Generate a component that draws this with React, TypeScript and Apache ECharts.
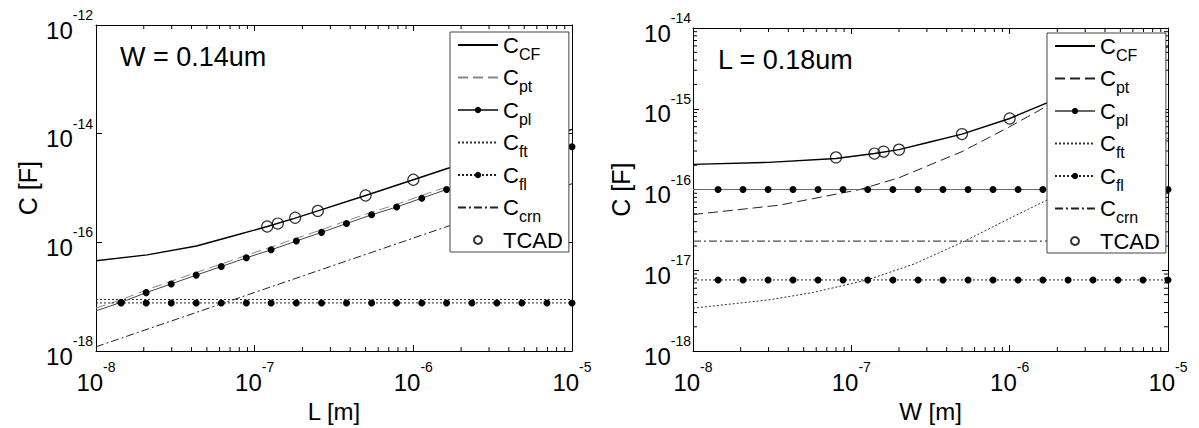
import React, { useEffect, useRef } from 'react';
import * as echarts from 'echarts';

const FONT = "'Liberation Sans', Arial, Helvetica, sans-serif";

// ---------- data (metres / farads) ----------
// sweep points used for the marked curves
const sweepX = [1e-8, 1.44e-8, 2.07e-8, 2.98e-8, 4.28e-8, 6.16e-8, 8.86e-8, 1.27e-7, 1.83e-7, 2.64e-7,
  3.79e-7, 5.46e-7, 7.85e-7, 1.13e-6, 1.62e-6, 2.34e-6, 3.36e-6, 4.83e-6, 6.95e-6, 1e-5];

// Left panel: W = 0.14um, x = L
const leftCfX = [1e-8, 2.1e-8, 4.3e-8, 8e-8, 1.2e-7, 1.8e-7, 2.5e-7, 5e-7, 1e-6, 1.6e-6, 1e-5];
const leftCfY = [4.6e-17, 5.9e-17, 8.6e-17, 1.41e-16, 1.96e-16, 2.8e-16, 3.8e-16, 7.3e-16, 1.42e-15, 2.24e-15, 1.2e-14];
const leftPtY = [6.2e-18, 8.8e-18, 1.33e-17, 1.93e-17, 2.8e-17, 4.0e-17, 5.8e-17, 8.2e-17, 1.19e-16, 1.71e-16,
  2.49e-16, 3.6e-16, 5.0e-16, 7.3e-16, 1.05e-15, 1.52e-15, 2.2e-15, 3.08e-15, 4.45e-15, 6.4e-15];
const leftPlY = [5.5e-18, 7.9e-18, 1.19e-17, 1.72e-17, 2.5e-17, 3.6e-17, 5.2e-17, 7.3e-17, 1.06e-16, 1.53e-16,
  2.22e-16, 3.22e-16, 4.48e-16, 6.5e-16, 9.4e-16, 1.36e-15, 1.98e-15, 2.75e-15, 3.98e-15, 5.77e-15];
const leftFtX = [1e-8, 1e-5];
const leftFtY = [8.9e-18, 8.9e-18];
const leftFlY = [7.7e-18, 7.7e-18, 7.7e-18, 7.7e-18, 7.7e-18, 7.7e-18, 7.7e-18, 7.7e-18, 7.7e-18, 7.7e-18,
  7.7e-18, 7.7e-18, 7.7e-18, 7.7e-18, 7.7e-18, 7.7e-18, 7.7e-18, 7.7e-18, 7.7e-18, 7.7e-18];
const leftCrnX = [1e-8, 1e-7, 1e-6, 1e-5];
const leftCrnY = [1.2e-18, 1.2e-17, 1.2e-16, 1.2e-15];
const leftTcadX = [1.2e-7, 1.4e-7, 1.8e-7, 2.5e-7, 5e-7, 1e-6];
const leftTcadY = [1.96e-16, 2.22e-16, 2.84e-16, 3.8e-16, 7.3e-16, 1.42e-15];

// Right panel: L = 0.18um, x = W
const rightCfX = [1e-8, 3e-8, 8e-8, 1.4e-7, 2e-7, 3e-7, 5e-7, 1e-6, 1.72e-6, 1e-5];
const rightCfY = [2.05e-16, 2.17e-16, 2.42e-16, 2.79e-16, 3.12e-16, 3.8e-16, 4.86e-16, 7.58e-16, 1.18e-15, 5.9e-15];
const rightPtX = [1e-8, 3.5e-8, 1.13e-7, 2e-7, 5e-7, 1e-6, 1.72e-6, 1e-5];
const rightPtY = [4.9e-17, 6.4e-17, 1.0e-16, 1.4e-16, 2.95e-16, 6.0e-16, 1.08e-15, 5.0e-15];
const rightPlY = [1e-16, 1e-16, 1e-16, 1e-16, 1e-16, 1e-16, 1e-16, 1e-16, 1e-16, 1e-16,
  1e-16, 1e-16, 1e-16, 1e-16, 1e-16, 1e-16, 1e-16, 1e-16, 1e-16, 1e-16];
const rightFtX = [1e-8, 3e-8, 5.7e-8, 1.26e-7, 2.5e-7, 5.2e-7, 1e-6, 1.72e-6, 1e-5];
const rightFtY = [3.4e-18, 4.3e-18, 5.3e-18, 7.6e-18, 1.2e-17, 2.3e-17, 4.4e-17, 7.4e-17, 4.3e-16];
const rightFlY = [7.6e-18, 7.6e-18, 7.6e-18, 7.6e-18, 7.6e-18, 7.6e-18, 7.6e-18, 7.6e-18, 7.6e-18, 7.6e-18,
  7.6e-18, 7.6e-18, 7.6e-18, 7.6e-18, 7.6e-18, 7.6e-18, 7.6e-18, 7.6e-18, 7.6e-18, 7.6e-18];
const rightCrnX = [1e-8, 1e-5];
const rightCrnY = [2.3e-17, 2.3e-17];
const rightTcadX = [8e-8, 1.4e-7, 1.6e-7, 2e-7, 5e-7, 1e-6];
const rightTcadY = [2.5e-16, 2.79e-16, 2.95e-16, 3.12e-16, 4.86e-16, 7.58e-16];

const legendKeys = ['CF', 'pt', 'pl', 'ft', 'fl', 'crn', 'TCAD'];
const markedKeys = ['pl', 'fl', 'TCAD'];
const xDecades = [-8, -7, -6];
const rightYDecades = [-18, -17, -16, -15];
const minorMultipliers = [2, 3, 4, 5, 6, 7, 8, 9];

const lg = (v: number) => Math.log10(v);
const pairs = (xs: number[], ys: number[]) => xs.map((x, i) => [lg(x), lg(ys[i])]);
const markedPairs = (xs: number[], ys: number[]) =>
  xs.map((x, i) => (i === 0 ? { value: [lg(x), lg(ys[i])], symbol: 'none' } : [lg(x), lg(ys[i])]));

const DASH = [10, 5];
const DOT = [2, 2];
const DASHDOT = [8, 3, 2, 3];

function buildPanel(p: 'L' | 'R', axisIdx: number, d: any) {
  const base = { xAxisIndex: axisIdx, yAxisIndex: axisIdx, animation: false, silent: true };
  const lineBase = { ...base, type: 'line', symbol: 'none', emphasis: { disabled: true } };
  const marked = {
    symbol: 'circle', symbolSize: 7, showSymbol: true, showAllSymbol: true,
    itemStyle: { color: '#000' },
  };
  return [
    { ...lineBase, name: p + '|pt', data: d.pt, lineStyle: { color: d.ptColor, width: 1, type: DASH }, itemStyle: { color: d.ptColor }, z: 3 },
    { ...lineBase, ...marked, name: p + '|pl', data: d.pl, lineStyle: { color: d.plColor, width: 1, type: 'solid' }, z: 4 },
    { ...lineBase, name: p + '|ft', data: d.ft, lineStyle: { color: '#333', width: 1, type: DOT }, itemStyle: { color: '#333' }, z: 3 },
    { ...lineBase, ...marked, name: p + '|fl', data: d.fl, lineStyle: { color: '#222', width: 1, type: DOT }, z: 4 },
    { ...lineBase, name: p + '|crn', data: d.crn, lineStyle: { color: '#222', width: 1, type: DASHDOT }, itemStyle: { color: '#222' }, z: 3 },
    { ...lineBase, name: p + '|CF', data: d.cf, lineStyle: { color: '#000', width: 1.4, type: 'solid' }, itemStyle: { color: '#000' }, z: 5 },
    {
      ...base, type: 'scatter', name: p + '|TCAD', data: d.tcad, symbol: 'circle', symbolSize: 11,
      itemStyle: { color: 'rgba(255,255,255,0)', borderColor: '#000', borderWidth: 1.2 }, z: 6,
    },
  ];
}

function minorTickSeries(axisIdx: number, xs: number[], ys: number[], xr: number[], yr: number[]) {
  const tick = (x1: number, y1: number, x2: number, y2: number) => ({
    type: 'line', shape: { x1, y1, x2, y2 }, style: { stroke: '#000', lineWidth: 1 },
  });
  const out: any[] = [];
  if (xs.length) {
    out.push({
      type: 'custom', xAxisIndex: axisIdx, yAxisIndex: axisIdx, silent: true, z: 1,
      data: xs.map((v) => [v, yr[0]]),
      renderItem: (_p: any, api: any) => {
        const v = api.value(0);
        const a = api.coord([v, yr[0]]);
        const b = api.coord([v, yr[1]]);
        return { type: 'group', children: [tick(a[0], a[1], a[0], a[1] - 4), tick(b[0], b[1], b[0], b[1] + 4)] };
      },
    });
  }
  if (ys.length) {
    out.push({
      type: 'custom', xAxisIndex: axisIdx, yAxisIndex: axisIdx, silent: true, z: 1,
      data: ys.map((v) => [xr[0], v]),
      renderItem: (_p: any, api: any) => {
        const v = api.value(1);
        const a = api.coord([xr[0], v]);
        const b = api.coord([xr[1], v]);
        return { type: 'group', children: [tick(a[0], a[1], a[0] + 4, a[1]), tick(b[0], b[1], b[0] - 4, b[1])] };
      },
    });
  }
  return out;
}

const tickRich = {
  b: { fontSize: 24, fontFamily: FONT, color: '#000', verticalAlign: 'bottom', lineHeight: 34 },
  s: { fontSize: 14, fontFamily: FONT, color: '#000', verticalAlign: 'top', lineHeight: 34 },
};
const expLabel = (v: number) => `{b|10}{s|${Math.round(v)}}`;

const axisLine = { show: true, onZero: false, lineStyle: { color: '#000', width: 1 } };

function xAxes(grid: number, name: string, nameGap: number) {
  return [
    {
      type: 'value', gridIndex: grid, position: 'bottom', min: -8, max: -5, interval: 1,
      axisLine, axisTick: { inside: true, length: 6, lineStyle: { color: '#000' } },
      splitLine: { show: false },
      axisLabel: { formatter: expLabel, rich: tickRich, margin: 9, showMinLabel: true, showMaxLabel: true },
      name, nameLocation: 'middle', nameGap,
      nameTextStyle: { fontSize: 24, fontFamily: FONT, color: '#000' },
    },
    {
      type: 'value', gridIndex: grid, position: 'top', min: -8, max: -5, interval: 1,
      axisLine, axisTick: { inside: true, length: 6, lineStyle: { color: '#000' } },
      splitLine: { show: false }, axisLabel: { show: false },
    },
  ];
}

function yAxes(grid: number, min: number, max: number, interval: number, nameGap: number, margin: number) {
  return [
    {
      type: 'value', gridIndex: grid, position: 'left', min, max, interval,
      axisLine, axisTick: { inside: true, length: 6, lineStyle: { color: '#000' } },
      splitLine: { show: false },
      axisLabel: { formatter: expLabel, rich: tickRich, margin, showMinLabel: true, showMaxLabel: true },
      name: 'C [F]', nameLocation: 'middle', nameGap, nameRotate: 90,
      nameTextStyle: { fontSize: 25, fontFamily: FONT, color: '#000' },
    },
    {
      type: 'value', gridIndex: grid, position: 'right', min, max, interval,
      axisLine, axisTick: { inside: true, length: 6, lineStyle: { color: '#000' } },
      splitLine: { show: false }, axisLabel: { show: false },
    },
  ];
}

function legend(p: string, left: number, top: number) {
  return {
    orient: 'vertical', left, top,
    data: legendKeys.map((k) =>
      markedKeys.includes(k)
        ? { name: p + '|' + k }
        : { name: p + '|' + k, itemStyle: { opacity: 0, color: 'rgba(0,0,0,0)', borderWidth: 0 } }),
    itemWidth: 40, itemHeight: 8, itemGap: 4.5,
    padding: [2, 6, 1, 7],
    borderColor: '#444', borderWidth: 1, backgroundColor: '#fff',
    selectedMode: false, z: 10,
    formatter: (name: string) => {
      const k = name.split('|')[1];
      return k === 'TCAD' ? '{t|TCAD}' : `{m|C}{u|${k}}`;
    },
    textStyle: {
      color: '#000', fontFamily: FONT,
      rich: {
        m: { fontSize: 22, fontFamily: FONT, color: '#000', verticalAlign: 'middle', lineHeight: 34 },
        u: { fontSize: 16, fontFamily: FONT, color: '#000', verticalAlign: 'bottom', lineHeight: 34 },
        t: { fontSize: 22, fontFamily: FONT, color: '#000', lineHeight: 26 },
      },
    },
  };
}

export default function App() {
  const ref = useRef<HTMLDivElement>(null);
  useEffect(() => {
    if (!ref.current) return;
    const chart = echarts.init(ref.current, undefined, { renderer: 'svg' });

    const minorX: number[] = [];
    xDecades.forEach((n) => minorMultipliers.forEach((k) => minorX.push(n + lg(k))));
    const minorYRight: number[] = [];
    rightYDecades.forEach((n) => minorMultipliers.forEach((k) => minorYRight.push(n + lg(k))));

    const left = buildPanel('L', 0, {
      cf: pairs(leftCfX, leftCfY),
      pt: pairs(sweepX, leftPtY),
      pl: markedPairs(sweepX, leftPlY),
      ft: pairs(leftFtX, leftFtY),
      fl: markedPairs(sweepX, leftFlY),
      crn: pairs(leftCrnX, leftCrnY),
      tcad: pairs(leftTcadX, leftTcadY),
      ptColor: '#888', plColor: '#444',
    });
    const right = buildPanel('R', 2, {
      cf: pairs(rightCfX, rightCfY),
      pt: pairs(rightPtX, rightPtY),
      pl: markedPairs(sweepX, rightPlY),
      ft: pairs(rightFtX, rightFtY),
      fl: markedPairs(sweepX, rightFlY),
      crn: pairs(rightCrnX, rightCrnY),
      tcad: pairs(rightTcadX, rightTcadY),
      ptColor: '#222', plColor: '#666',
    });

    chart.setOption({
      animation: false,
      backgroundColor: '#fff',
      textStyle: { fontFamily: FONT },
      grid: [
        { left: 96, top: 25, width: 476, height: 335 },
        { left: 693, top: 28, width: 475, height: 332 },
      ],
      xAxis: [...xAxes(0, 'L [m]', 28), ...xAxes(1, 'W [m]', 28)],
      yAxis: [...yAxes(0, -18, -12, 2, 56, 3), ...yAxes(1, -18, -14, 1, 60, 2)],
      legend: [legend('L', 450, 32), legend('R', 1047, 33)],
      graphic: [
        { type: 'text', x: 120, y: 57, style: { text: 'W = 0.14um', fontSize: 27, fontFamily: FONT, fill: '#000', verticalAlign: 'middle' } },
        { type: 'text', x: 718, y: 60, style: { text: 'L = 0.18um', fontSize: 27, fontFamily: FONT, fill: '#000', verticalAlign: 'middle' } },
      ],
      series: [
        ...left,
        ...right,
        ...minorTickSeries(0, minorX, [], [-8, -5], [-18, -12]),
        ...minorTickSeries(2, minorX, minorYRight, [-8, -5], [-18, -14]),
      ],
    });
    return () => chart.dispose();
  }, []);
  return <div ref={ref} style={{ position: 'fixed', left: 0, top: 0, width: 1199, height: 428 }} />;
}
